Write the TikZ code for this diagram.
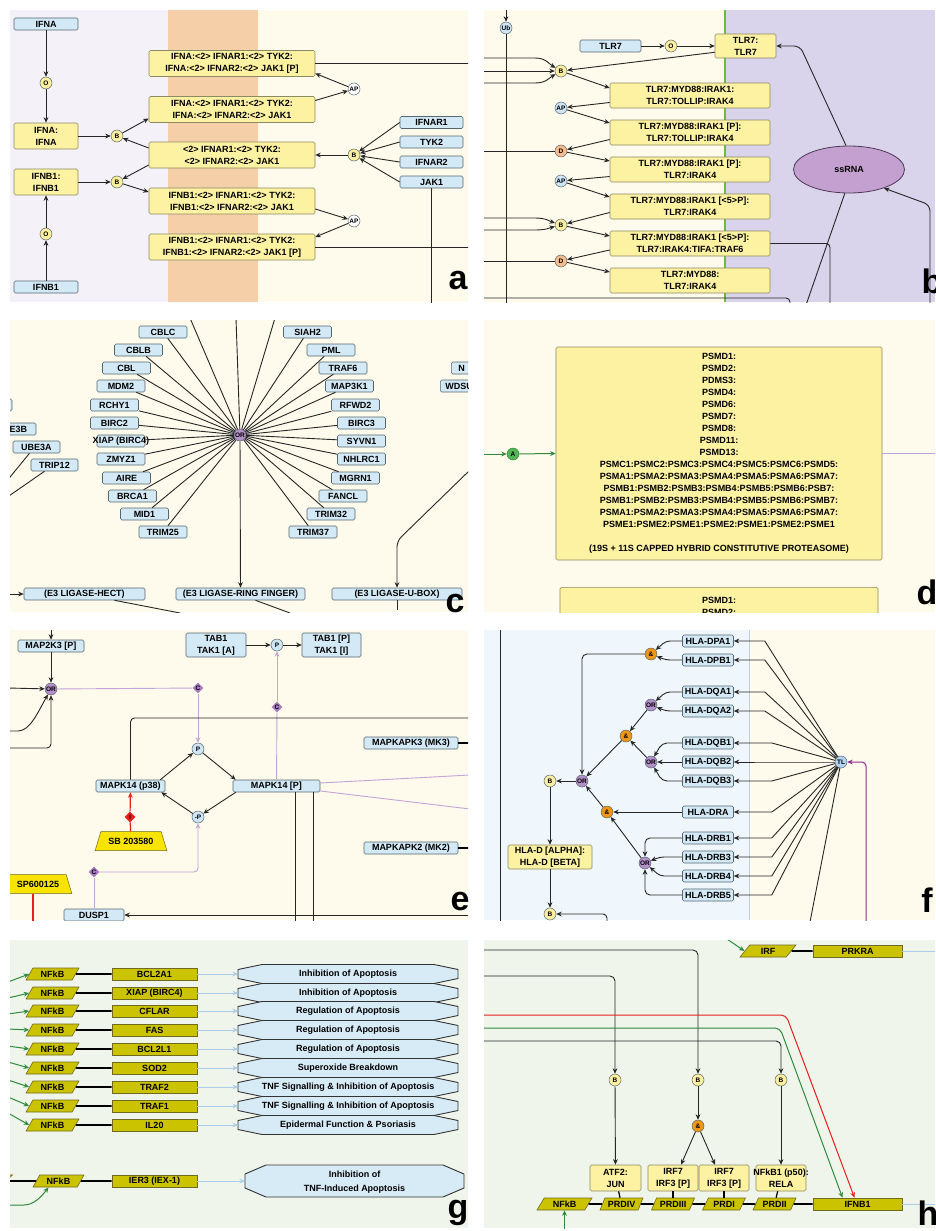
\documentclass[tikz,border=0pt]{standalone}
\usepackage{fontspec}
\setmainfont{Liberation Sans}
\usetikzlibrary{arrows.meta,calc,shapes.geometric}

\definecolor{protblue}{HTML}{D3EAF6}
\definecolor{boxedge}{HTML}{55666F}
\definecolor{cplxyel}{HTML}{FDF1A2}
\definecolor{cplxedge}{HTML}{8C8A62}
\definecolor{stateyel}{HTML}{FBEE9E}
\definecolor{stateblue}{HTML}{CFE5F4}
\definecolor{statepeach}{HTML}{F6BC8C}
\definecolor{orpurple}{HTML}{B48FC9}
\definecolor{andorange}{HTML}{F0960F}
\definecolor{tlblue}{HTML}{B3D3F0}
\definecolor{lavbg}{HTML}{F4F1F9}
\definecolor{orangebg}{HTML}{F5CFA7}
\definecolor{creambg}{HTML}{FEFBEC}
\definecolor{lilacbg}{HTML}{D9D4EC}
\definecolor{skybg}{HTML}{EFF7FC}
\definecolor{mintbg}{HTML}{F0F5EB}
\definecolor{olive}{HTML}{CCC300}
\definecolor{oliveedge}{HTML}{6E6A20}
\definecolor{fxblue}{HTML}{D7EBF7}
\definecolor{paleblue}{HTML}{A9CDEB}
\definecolor{lilac}{HTML}{C4A3D9}
\definecolor{diapurple}{HTML}{A77DC0}
\definecolor{rnapurple}{HTML}{C3A0CF}
\definecolor{rnaedge}{HTML}{4D3A55}
\definecolor{sigred}{HTML}{E8201C}
\definecolor{siggreen}{HTML}{2E8B3E}
\definecolor{agreen}{HTML}{52B452}
\definecolor{drugyel}{HTML}{F8E400}
\definecolor{tlmagenta}{HTML}{8E2B8E}
\definecolor{bandgreen}{HTML}{6DBB3C}
\definecolor{divider}{HTML}{C2CFDA}

\newcommand{\boxfont}{\bfseries\fontsize{9}{12}\selectfont}
\newcommand{\gatefont}{\bfseries\fontsize{6.5}{6.5}\selectfont}
\newcommand{\panelfont}{\bfseries\fontsize{34}{34}\selectfont}

\tikzset{
  prot/.style={draw=boxedge, fill=protblue, rounded corners=1.5pt, line width=0.6pt, font=\boxfont, inner sep=1pt, minimum height=12pt},
  cplx/.style={draw=cplxedge, fill=cplxyel, rounded corners=1.5pt, line width=0.6pt, font=\boxfont, align=center, inner sep=1pt, minimum height=26pt},
  gate/.style={circle, draw=boxedge, line width=0.5pt, inner sep=0pt, minimum size=12pt, font=\gatefont},
  gyel/.style={gate, fill=stateyel},
  gblue/.style={gate, fill=stateblue},
  gpeach/.style={gate, fill=statepeach},
  gwhite/.style={gate, fill=white},
  gor/.style={gate, fill=orpurple},
  gand/.style={gate, fill=andorange},
  gtl/.style={gate, fill=tlblue},
  ggreen/.style={gate, fill=agreen, draw=siggreen},
  cdia/.style={diamond, fill=diapurple, inner sep=0pt, minimum size=11pt, font=\gatefont},
  idia/.style={diamond, fill=sigred, inner sep=0pt, minimum size=11pt, font=\gatefont},
  drug/.style={trapezium, trapezium stretches=true, trapezium left angle=62, trapezium right angle=62, draw=oliveedge, line width=0.5pt, fill=drugyel, font=\boxfont, inner sep=1pt, minimum height=19pt},
  nfkb/.style={trapezium, trapezium stretches=true, trapezium left angle=60, trapezium right angle=120, draw=oliveedge, line width=0.6pt, fill=olive, font=\boxfont, inner sep=0.5pt, minimum width=53pt, minimum height=12pt},
  gene/.style={rectangle, draw=oliveedge, line width=0.6pt, fill=olive, font=\boxfont, inner sep=0.5pt, minimum width=85pt, minimum height=12pt},
  fxshape/.style={draw=black!80, line width=0.9pt, fill=fxblue},
  fxlabel/.style={font=\boxfont, inner sep=0pt},
  link/.style={line width=0.9pt, draw=black!85},
  arr/.style={link, -{Stealth[length=5.5pt,width=4.8pt]}},
  thickline/.style={line width=1.6pt, draw=black},
  plink/.style={line width=0.9pt, draw=lilac},
  parr/.style={plink, -{Stealth[length=5.5pt,width=4.8pt]}},
  rarr/.style={line width=1pt, draw=sigred, -{Stealth[length=5.5pt,width=4.8pt]}},
  garr/.style={line width=1pt, draw=siggreen, -{Stealth[length=5.5pt,width=4.8pt]}},
  blarr/.style={line width=1pt, draw=paleblue, -{Stealth[length=5.5pt,width=4.8pt]}},
  marr/.style={line width=1pt, draw=tlmagenta, -{Stealth[length=5.5pt,width=4.8pt]}},
  panel/.style={font=\panelfont, inner sep=0pt}
}

\begin{document}
\begin{tikzpicture}[x=1pt, y=-1pt]
\useasboundingbox (0,0) rectangle (935,1231);
\fill[white] (0,0) rectangle (935,1231);

% ---------- panel a: interferon receptor ----------
\begin{scope}
  \clip (10,10) rectangle (468,302);
  \fill[lavbg] (10,10) rectangle (168,302);
  \fill[orangebg] (168,10) rectangle (258,302);
  \fill[creambg] (258,10) rectangle (468,302);

  \node[prot, minimum width=64] (ifna) at (46,24) {IFNA};
  \node[gyel] (oa) at (46,83) {O};
  \node[cplx, minimum width=64] (ifnadimer) at (46,136) {IFNA:\\IFNA};
  \node[cplx, minimum width=64] (ifnbdimer) at (46,182) {IFNB1:\\IFNB1};
  \node[gyel] (ob) at (46,234) {O};
  \node[prot, minimum width=64] (ifnb) at (46,287) {IFNB1};
  \node[gyel] (ba) at (117,136) {B};
  \node[gyel] (bb) at (117,182) {B};

  \node[cplx, minimum width=166] (ca1) at (232,63.5) {IFNA:<2> IFNAR1:<2> TYK2:\\IFNA:<2> IFNAR2:<2> JAK1 [P]};
  \node[cplx, minimum width=166] (ca2) at (232,109.5) {IFNA:<2> IFNAR1:<2> TYK2:\\IFNA:<2> IFNAR2:<2> JAK1};
  \node[cplx, minimum width=166] (ca3) at (232,155) {<2> IFNAR1:<2> TYK2:\\<2> IFNAR2:<2> JAK1};
  \node[cplx, minimum width=166] (ca4) at (232,201) {IFNB1:<2> IFNAR1:<2> TYK2:\\IFNB1:<2> IFNAR2:<2> JAK1};
  \node[cplx, minimum width=166] (ca5) at (232,247) {IFNB1:<2> IFNAR1:<2> TYK2:\\IFNB1:<2> IFNAR2:<2> JAK1 [P]};

  \node[gwhite] (apa) at (354,89) {AP};
  \node[gwhite] (apb) at (354,221) {AP};
  \node[gyel] (bc) at (354,155) {B};
  \foreach \nm/\y in {IFNAR1/122.5, TYK2/142, IFNAR2/162, JAK1/182} {
    \node[prot, minimum width=63] (\nm) at (431.5,\y) {\nm};
    \draw[arr] (\nm.west) -- (bc);
  }

  \draw[arr] (ifna) -- (oa);
  \draw[arr] (oa) -- (ifnadimer);
  \draw[arr] (ifnb) -- (ob);
  \draw[arr] (ob) -- (ifnbdimer);
  \draw[arr] (ifnadimer) -- (ba);
  \draw[arr] (ifnbdimer) -- (bb);
  \draw[arr] (ba) -- ($(ca2.west)+(0,9)$);
  \draw[arr] ($(ca3.west)+(0,-7)$) -- (ba);
  \draw[arr] ($(ca3.west)+(0,10)$) -- (bb);
  \draw[arr] (bb) -- ($(ca4.west)+(0,-9)$);
  \draw[arr] ($(ca2.east)+(0,-9)$) -- (apa);
  \draw[arr] (apa) -- ($(ca1.east)+(0,10)$);
  \draw[arr] ($(ca4.east)+(0,8)$) -- (apb);
  \draw[arr] (apb) -- ($(ca5.east)+(0,-10)$);
  \draw[arr] (bc) -- (ca3.east);
  \draw[link] (ca1.east) -- ++(160,0);
  \draw[link] (ca5.east) -- ++(160,0);
  \draw[link] (JAK1.south) -- ++(0,120);
\end{scope}
\node[panel] (lbla) at (458,281) {a};

% ---------- panel b: TLR7 ----------
\begin{scope}
  \clip (484,10) rectangle (935,302);
  \fill[creambg] (484,10) rectangle (725,302);
  \fill[lilacbg] (725,10) rectangle (935,302);
  \draw[bandgreen, line width=1.3pt] (725,10) -- (725,302);

  \node[gblue] (ub) at (506,28) {Ub};
  \draw[arr] (506,10) -- (ub);
  \draw[link] (ub) -- (506,305);

  \node[prot, minimum width=61] (tlr) at (610.5,46) {TLR7};
  \node[gyel] (otl) at (671,46) {O};
  \node[cplx, minimum width=61, minimum height=24] (tlrdimer) at (745.5,46) {TLR7:\\TLR7};
  \node[gyel] (btl1) at (561,71) {B};
  \node[gblue] (apt1) at (561,108) {AP};
  \node[gpeach] (dt1) at (561,151) {D};
  \node[gblue] (apt2) at (561,181) {AP};
  \node[gyel] (btl2) at (561,225) {B};
  \node[gpeach] (dt2) at (561,261) {D};

  \node[cplx, minimum width=160, minimum height=25] (tb1) at (690,95.5) {TLR7:MYD88:IRAK1:\\TLR7:TOLLIP:IRAK4};
  \node[cplx, minimum width=160, minimum height=25] (tb2) at (690,132.5) {TLR7:MYD88:IRAK1 [P]:\\TLR7:TOLLIP:IRAK4};
  \node[cplx, minimum width=160, minimum height=25] (tb3) at (690,169.5) {TLR7:MYD88:IRAK1 [P]:\\TLR7:IRAK4};
  \node[cplx, minimum width=160, minimum height=25] (tb4) at (690,206.5) {TLR7:MYD88:IRAK1 [<5>P]:\\TLR7:IRAK4};
  \node[cplx, minimum width=160, minimum height=25] (tb5) at (690,243.5) {TLR7:MYD88:IRAK1 [<5>P]:\\TLR7:IRAK4:TIFA:TRAF6};
  \node[cplx, minimum width=160, minimum height=25] (tb6) at (690,280.5) {TLR7:MYD88:\\TLR7:IRAK4};

  \node[ellipse, draw=rnaedge, fill=rnapurple, line width=0.8pt, minimum width=111, minimum height=47, font=\boxfont] (ssrna) at (849,169.5) {ssRNA};

  \draw[arr] (tlr) -- (otl);
  \draw[arr] (otl) -- (tlrdimer);
  \draw[arr] ($(tlrdimer.south west)+(0,-6)$) -- (btl1);
  \draw[arr] (484,58) -- (535,58) .. controls (546,58) and (549,64) .. (btl1);
  \draw[arr] (484,71) -- (btl1);
  \draw[arr] (484,83) -- (535,83) .. controls (546,83) and (549,78) .. (btl1);
  \draw[arr] (btl1) -- ($(tb1.west)+(0,-7.5)$);
  \draw[arr] ($(tb1.west)+(0,7)$) -- (apt1);
  \draw[arr] (apt1) -- ($(tb2.west)+(0,-9.5)$);
  \draw[arr] ($(tb2.west)+(0,7)$) -- (dt1);
  \draw[link] (484,151) -- (dt1);
  \draw[arr] (dt1) -- ($(tb3.west)+(0,-8.5)$);
  \draw[arr] ($(tb3.west)+(0,7)$) -- (apt2);
  \draw[arr] (apt2) -- ($(tb4.west)+(0,-9.5)$);
  \draw[arr] ($(tb4.west)+(0,6)$) -- (btl2);
  \draw[arr] (484,218) -- (535,218) .. controls (546,218) and (549,221) .. (btl2);
  \draw[arr] (484,230) -- (535,230) .. controls (546,230) and (549,228) .. (btl2);
  \draw[arr] (btl2) -- ($(tb5.west)+(0,-7.5)$);
  \draw[arr] ($(tb5.west)+(0,6.5)$) -- (dt2);
  \draw[link] (484,261) -- (dt2);
  \draw[arr] (dt2) -- ($(tb6.west)+(0,-8.5)$);
  \draw[link, rounded corners=4] (tb5.east) -| (830,305);
  \draw[link, rounded corners=4] (484,298) -| (790,305);

  \draw[arr, rounded corners=6] (ssrna.97) -- (800,46) -- (tlrdimer.east);
  \draw[arr, rounded corners=6] (930,305) -- (930,205) -- (ssrna.-28);
  \draw[link] (ssrna.-100) -- (806,305);
\end{scope}
\node[panel] (lblb) at (932,281) {b};

% ---------- panel c: E3 ligases ----------
\begin{scope}
  \clip (10,320) rectangle (468,612);
  \fill[creambg] (10,320) rectangle (468,612);

  \node[gor] (orc) at (240,435) {OR};
  \foreach \nm/\x/\y in {CBLC/163/332, CBLB/138.5/350, CBL/126.5/368, MDM2/121/386,
      RCHY1/114.5/405, BIRC2/114.5/423, ZMYZ1/121/459, AIRE/126.5/478,
      BRCA1/132.5/496, MID1/144.5/514, TRIM25/163/532,
      SIAH2/307.5/332, PML/331/350, TRAF6/343/368, MAP3K1/349.5/386,
      RFWD2/355.5/405, BIRC3/361.5/423, SYVN1/361.5/441, NHLRC1/361.5/459,
      MGRN1/355.5/478, FANCL/343/496, TRIM32/331/514, TRIM37/313/532} {
    \node[prot, minimum width=48] (\nm) at (\x,\y) {\nm};
    \draw[link] (\nm) -- (orc);
  }
  \node[prot, minimum width=48] (xiap) at (121,441) {\makebox[44pt]{XIAP (BIRC4)}};
  \draw[link] (xiap) -- (orc);
  \draw[link] (190,318) -- (orc);
  \draw[link] (236,318) -- (orc);
  \draw[link] (275,318) -- (orc);

  \node[prot, minimum width=121] (hect) at (84.5,594) {(E3 LIGASE-HECT)};
  \node[prot, minimum width=129] (ring) at (240.5,594) {(E3 LIGASE-RING FINGER)};
  \node[prot, minimum width=130] (ubox) at (397,594) {(E3 LIGASE-U-BOX)};
  \draw[arr] (orc) -- (ring);
  \draw[arr] (8,594) -- (hect);
  \draw[arr, rounded corners=6] (470,470) -- (397,541) -- (ubox.north);
  \draw[link] (ubox.south) -- ++(0,10);
  \draw[link] ($(hect.south)+(30,0)$) -- (180,613);
  \draw[link] ($(ring.south)+(15,0)$) -- (290,613);

  \node[prot, minimum width=48] (lpart) at (-12,405) {};
  \node[prot, minimum width=48] (ube3b) at (12,429) {UBE3B};
  \node[prot, minimum width=47] (ube3a) at (36.5,447) {UBE3A};
  \node[prot, minimum width=47] (trip12) at (54.5,465) {TRIP12};
  \draw[link] ($(ube3a.south)+(-7,0)$) -- (6,482);
  \draw[link] ($(trip12.south)+(-10,0)$) -- (6,498);
  \node[prot, anchor=west, minimum width=50, text width=36, align=left] (npart) at (451,368) {N};
  \node[prot, anchor=west, minimum width=50, text width=40, align=left] (wpart) at (440,386) {WDSU};
\end{scope}
\node[panel] (lblc) at (455,604) {c};

% ---------- panel d: proteasome ----------
\begin{scope}
  \clip (484,320) rectangle (935,612);
  \fill[creambg] (484,320) rectangle (935,612);
  \node[cplx, minimum width=326, minimum height=213, inner sep=2pt] (psm1) at (719,453.5) {PSMD1:\\PSMD2:\\PDMS3:\\PSMD4:\\PSMD6:\\PSMD7:\\PSMD8:\\PSMD11:\\PSMD13:\\PSMC1:PSMC2:PSMC3:PSMC4:PSMC5:PSMC6:PSMD5:\\PSMA1:PSMA2:PSMA3:PSMA4:PSMA5:PSMA6:PSMA7:\\PSMB1:PSMB2:PSMB3:PSMB4:PSMB5:PSMB6:PSB7:\\PSMB1:PSMB2:PSMB3:PSMB4:PSMB5:PSMB6:PSMB7:\\PSMA1:PSMA2:PSMA3:PSMA4:PSMA5:PSMA6:PSMA7:\\PSME1:PSME2:PSME1:PSME2:PSME1:PSME2:PSME1\\[12pt](19S + 11S CAPPED HYBRID CONSTITUTIVE PROTEASOME)};
  \node[ggreen] (agt) at (513,454) {A};
  \draw[garr] (484,454) -- (agt);
  \draw[garr] (agt) -- (psm1.west);
  \draw[plink] (psm1.east) -- (937,453.5);
  \node[cplx, anchor=north, minimum width=318, minimum height=38] (psm2) at (719,587) {PSMD1:\\PSMD2:};
\end{scope}
\node[panel] (lbld) at (927,592) {d};

% ---------- panel e: p38 MAPK ----------
\begin{scope}
  \clip (10,630) rectangle (468,920);
  \fill[creambg] (10,630) rectangle (468,920);

  \node[prot, minimum width=66] (map2k3) at (51,646) {MAP2K3 [P]};
  \node[gor] (ore) at (51,689) {OR};
  \node[cdia] (ce1) at (198,688) {C};
  \node[prot, minimum width=60, minimum height=24, align=center] (tab1) at (216,645) {TAB1\\TAK1 [A]};
  \node[gblue] (pt) at (277,645) {P};
  \node[prot, minimum width=59, minimum height=24, align=center] (tab1p) at (331.5,645) {TAB1 [P]\\TAK1 [I]};
  \node[cdia] (ce2) at (277,707) {C};
  \node[gblue] (pe1) at (198,749) {P};
  \node[gblue] (me1) at (198,817) {-P};
  \node[prot, minimum width=69] (p38) at (130.5,786) {MAPK14 (p38)};
  \node[prot, minimum width=87] (mapkp) at (276.5,786) {MAPK14 [P]};
  \node[prot, minimum width=94] (mk3) at (411,743) {MAPKAPK3 (MK3)};
  \node[prot, minimum width=94] (mk2) at (411,848) {MAPKAPK2 (MK2)};
  \node[idia] (ie) at (130,817) {I};
  \node[drug, minimum width=72] (sb) at (131,841) {SB 203580};
  \node[drug, minimum width=68] (sp) at (38,884) {SP600125};
  \node[cdia] (ce3) at (94,872) {C};
  \node[prot, minimum width=60] (dusp1) at (94,915) {DUSP1};

  \draw[arr] (51,628) -- (map2k3);
  \draw[arr] (map2k3) -- (ore);
  \draw[arr] (8,688) -- (ore);
  \draw[arr] (8,731) -- (18,731) .. controls (30,731) and (38,712) .. (ore);
  \draw[arr, rounded corners=4] (8,748) -| (ore);
  \draw[plink] (ore) -- (ce1);
  \draw[parr] (ce1) -- (pe1);
  \draw[arr] (tab1) -- (pt);
  \draw[arr] (pt) -- (tab1p);
  \draw[plink] (mapkp) -- (ce2);
  \draw[parr] (ce2) -- (pt);
  \draw[arr] ($(p38.north east)+(-5,0)$) -- (pe1);
  \draw[arr] (pe1) -- ($(mapkp.north west)+(3,0)$);
  \draw[arr] ($(mapkp.south west)+(3,0)$) -- (me1);
  \draw[arr] (me1) -- ($(p38.south east)+(-4,0)$);
  \draw[link, rounded corners=4] (p38.north) |- (470,718);
  \draw[thickline] (mk3.east) -- ++(12,0);
  \draw[thickline] (mk2.east) -- ++(12,0);
  \draw[plink] ($(mapkp.east)+(0,-3)$) -- (470,775);
  \draw[plink] ($(mapkp.east)+(0,5)$) -- (470,809);
  \draw[link] ($(mapkp.south)+(18.5,0)$) -- ++(0,130);
  \draw[link] ($(mapkp.south)+(36.5,0)$) -- ++(0,130);
  \draw[line width=1.2pt, sigred] (sb) -- (ie);
  \draw[rarr, line width=1.2pt] (ie) -- (p38);
  \draw[line width=1.2pt, sigred] ($(sp.south)+(-5,0)$) -- ++(0,30);
  \draw[arr] (470,915) -- (dusp1);
  \draw[plink] (dusp1) -- (ce3);
  \draw[parr, rounded corners=4] (ce3) -| (me1);
  \draw[plink] (dusp1.south) -- ++(0,10);
\end{scope}
\node[panel] (lble) at (460,902) {e};

% ---------- panel f: HLA class II ----------
\begin{scope}
  \clip (484,630) rectangle (935,920);
  \fill[skybg] (484,630) rectangle (749,920);
  \fill[creambg] (749,630) rectangle (935,920);
  \draw[divider, line width=1pt] (749,630) -- (749,920);
  \draw[link] (500,628) -- (500,922);

  \node[gtl] (tl) at (841,762) {TL};
  \foreach \nm/\txt/\y/\d in {hdpa1/HLA-DPA1/641/31, hdpb1/HLA-DPB1/660/31,
      hdqa1/HLA-DQA1/692/31, hdqa2/HLA-DQA2/711/31, hdqb1/HLA-DQB1/743/38,
      hdqb2/HLA-DQB2/762/38, hdqb3/HLA-DQB3/781/38, hdra/HLA-DRA/812/38,
      hdrb1/HLA-DRB1/838/38, hdrb3/HLA-DRB3/857/38, hdrb4/HLA-DRB4/876/38,
      hdrb5/HLA-DRB5/895/38} {
    \node[prot, minimum width=51] (\nm) at (708,\y) {\txt};
    \draw[arr] (tl) -- ($(\nm.east)+(\d,0)$) -- (\nm.east);
  }
  \draw[link] (810,922) -- (tl);
  \draw[marr, rounded corners=4] (866,922) |- (tl);

  \node[gand] (and1) at (651,654) {\&};
  \node[gor] (or1) at (651,705) {OR};
  \node[gand] (and2) at (626,736) {\&};
  \node[gor] (or2) at (651,762) {OR};
  \node[gor] (or3) at (582,781) {OR};
  \node[gand] (and3) at (607,812) {\&};
  \node[gor] (or4) at (645,863) {OR};
  \node[gyel] (bf1) at (550,781) {B};
  \node[cplx, minimum width=84, minimum height=24] (hlad) at (550,857) {HLA-D [ALPHA]:\\HLA-D [BETA]};
  \node[gyel] (bf2) at (550,914) {B};

  \draw[arr, rounded corners=4] (hdpa1.west) -- (666,641) -- (and1);
  \draw[arr, rounded corners=4] (hdpb1.west) -- (666,660) -- (and1);
  \draw[arr, rounded corners=5] (and1) -| (or3);
  \draw[arr, rounded corners=4] (hdqa1.west) -- (666,692) -- (or1);
  \draw[arr, rounded corners=4] (hdqa2.west) -- (666,711) -- (or1);
  \draw[arr] (or1) -- (and2);
  \draw[arr, rounded corners=5] (hdqb1.west) -- (662,743) -- (or2);
  \draw[arr] (hdqb2) -- (or2);
  \draw[arr, rounded corners=5] (hdqb3.west) -- (662,781) -- (or2);
  \draw[arr] (or2) -- (and2);
  \draw[arr] (and2) -- (or3);
  \draw[arr] (hdra) -- (and3);
  \draw[arr] (and3) -- (or3);
  \draw[arr, rounded corners=5] (hdrb1.west) -| (or4);
  \draw[arr, rounded corners=4] (hdrb3.west) -- (660,857) -- (or4);
  \draw[arr, rounded corners=4] (hdrb4.west) -- (660,876) -- (or4);
  \draw[arr, rounded corners=5] (hdrb5.west) -| (or4);
  \draw[arr] (or4) -- (and3);
  \draw[arr] (or3) -- (bf1);
  \draw[arr] (bf1) -- (hlad);
  \draw[arr] (hlad) -- (bf2);
  \draw[arr, rounded corners=4] (607,925) |- (bf2);
\end{scope}
\node[panel] (lblf) at (927,900) {f};

% ---------- panel g: NFkB targets ----------
\begin{scope}
  \clip (10,940) rectangle (468,1228);
  \fill[mintbg] (10,940) rectangle (468,1228);
  \foreach \i/\y/\gn/\fx/\sy in {1/974/BCL2A1/Inhibition of Apoptosis/982,
      2/993/XIAP (BIRC4)/Inhibition of Apoptosis/998,
      3/1011/CFLAR/Regulation of Apoptosis/1014,
      4/1030/FAS/Regulation of Apoptosis/1029,
      5/1049/BCL2L1/Regulation of Apoptosis/1046,
      6/1068/SOD2/Superoxide Breakdown/1062,
      7/1087/TRAF2/TNF Signalling \& Inhibition of Apoptosis/1080,
      8/1106/TRAF1/TNF Signalling \& Inhibition of Apoptosis/1097,
      9/1125/IL20/Epidermal Function \& Psoriasis/1113} {
    \filldraw[fxshape] (238,{\y-4.5}) -- (262,{\y-9.5}) -- (434,{\y-9.5}) -- (458,{\y-4.5})
      -- (458,{\y+4.5}) -- (434,{\y+9.5}) -- (262,{\y+9.5}) -- (238,{\y+4.5}) -- cycle;
    \node[fxlabel] (fx\i) at (348,\y) {\fx};
    \coordinate (fxin\i) at (238,\y);
    \node[nfkb] (nf\i) at (52.5,\y) {NFkB};
    \node[gene] (gn\i) at (154.5,\y) {\gn};
    \draw[thickline] (nf\i) -- (gn\i);
    \draw[blarr] (gn\i) -- (fxin\i);
    \draw[garr] (8,\sy) -- (nf\i.west);
  }
  \filldraw[fxshape] (245,1174) -- (266,1165) -- (443,1165) -- (464,1174) -- (464,1188)
    -- (443,1197) -- (266,1197) -- (245,1188) -- cycle;
  \node[fxlabel, align=center] (fx10) at (354.5,1182) {Inhibition of\\[1.5pt]TNF-Induced Apoptosis};
  \coordinate (fxin10) at (245,1181);
  \node[nfkb] (nf0) at (-14,1181) {};
  \node[nfkb, minimum width=51] (nf10) at (58.5,1181) {NFkB};
  \node[gene] (gn10) at (154.5,1181) {IER3 (IEX-1)};
  \draw[thickline] (nf0) -- (nf10) -- (gn10);
  \draw[blarr] (gn10) -- (fxin10);
  \draw[garr] (8,1205) -- (24,1205) .. controls (34,1205) and (42,1196) .. ($(nf10.south)+(-10,0)$);
\end{scope}
\node[panel] (lblg) at (458,1213) {g};

% ---------- panel h: IFNB1 enhanceosome ----------
\begin{scope}
  \clip (484,940) rectangle (935,1228);
  \fill[mintbg] (484,940) rectangle (935,1228);

  \node[nfkb, minimum width=56] (irf) at (768,951) {IRF};
  \node[gene, minimum width=89] (prkra) at (857.5,951) {PRKRA};
  \draw[thickline] (irf) -- (prkra);
  \draw[blarr, -] (prkra.east) -- (937,951);
  \draw[garr] (724,937) -- (irf.west);

  \node[gyel] (bh1) at (615,1080) {B};
  \node[gyel] (bh2) at (698,1080) {B};
  \node[gyel] (bh3) at (781,1080) {B};
  \node[gand] (andh) at (698,1126) {\&};
  \node[cplx, minimum width=51] (atf) at (615.5,1178) {ATF2:\\JUN};
  \node[cplx, minimum width=50] (irfa) at (673,1178) {IRF7\\IRF3 [P]};
  \node[cplx, minimum width=50] (irfb) at (724,1178) {IRF7\\IRF3 [P]};
  \node[cplx, minimum width=50] (nfkb1) at (781,1178) {\makebox[40pt]{NFkB1 (p50):}\\RELA};

  \node[nfkb, minimum width=55] (nfkbh) at (564.5,1204) {NFkB};
  \node[nfkb, minimum width=43] (prdiv) at (621.5,1204) {PRDIV};
  \node[nfkb, minimum width=43] (prdiii) at (673,1204) {PRDIII};
  \node[nfkb, minimum width=43] (prdi) at (724,1204) {PRDI};
  \node[nfkb, minimum width=43] (prdii) at (774.5,1204) {PRDII};
  \node[gene, minimum width=89] (ifnbh) at (857.5,1204) {IFNB1};

  \draw[arr, rounded corners=5] (482,950) -| (bh2);
  \draw[arr, rounded corners=5] (482,976) -| (bh1);
  \draw[rarr, rounded corners=5] (482,1015) -- (786,1015) -- ($(ifnbh.north)+(-3,0)$);
  \draw[garr, rounded corners=5] (482,1028) -- (780,1028) -- ($(ifnbh.north)+(-15,0)$);
  \draw[arr, rounded corners=5] (482,1041) -| (bh3);
  \draw[arr] (bh1) -- (atf);
  \draw[arr] (bh2) -- (andh);
  \draw[arr] (andh) -- ($(irfa.north)+(8,0)$);
  \draw[arr] (andh) -- ($(irfb.north)+(-9,0)$);
  \draw[arr] (bh3) -- (nfkb1);

  \draw[thickline] (nfkbh) -- (prdiv) -- (prdiii) -- (prdi) -- (prdii) -- (ifnbh);
  \draw[thickline, line width=1.2pt] (atf) -- (prdiv);
  \draw[thickline, line width=1.2pt] (irfa) -- (prdiii);
  \draw[thickline, line width=1.2pt] (irfb) -- (prdi);
  \draw[thickline, line width=1.2pt] (nfkb1) -- (prdii);
  \draw[garr] (564.5,1230) -- (nfkbh);
  \draw[blarr, -] (ifnbh.east) -- (937,1204);
\end{scope}
\node[panel] (lblh) at (928,1213) {h};
\end{tikzpicture}
\end{document}
